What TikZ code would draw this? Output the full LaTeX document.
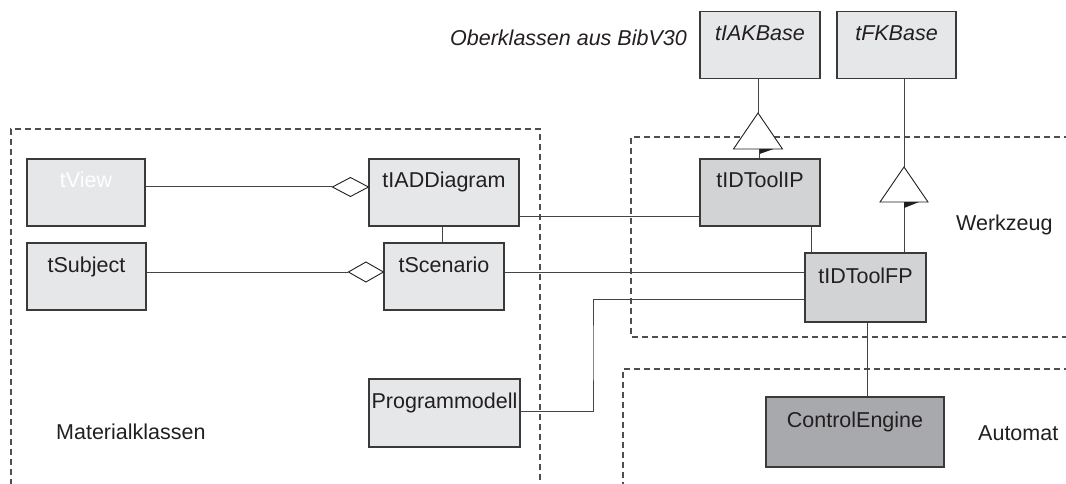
\documentclass[tikz,border=0pt]{standalone}
\usepackage{fontspec}
\setmainfont{Liberation Sans}
\definecolor{ink}{HTML}{231F20}
\definecolor{edge}{HTML}{3A3A3A}
\definecolor{fillA}{HTML}{E6E7E8}
\definecolor{fillB}{HTML}{D1D3D4}
\definecolor{fillC}{HTML}{A7A9AC}
\definecolor{wire}{HTML}{444444}
\definecolor{frame}{HTML}{4E4E4E}

\begin{document}
\begin{tikzpicture}[x=1pt,y=-1pt,
  every node/.style={font=\fontsize{21.5}{24}\selectfont, text=ink},
  cls/.style={draw=edge, line width=1.1pt, inner sep=0pt, text height=29pt, text depth=38pt},
  light/.style={cls, fill=fillA},
  mid/.style={cls, fill=fillB},
  dark/.style={cls, fill=fillC},
  wire/.style={draw=wire, line width=1pt},
  hollow/.style={draw=ink, line width=0.9pt, fill=white, line join=miter},
  frameline/.style={draw=frame, line width=1.1pt, dash pattern=on 6pt off 4pt},
  caption/.style={anchor=base west, inner sep=0pt}
]
\useasboundingbox (0,0) rectangle (1066,484);
\clip (0,0) rectangle (1066,484);

% package frames
\draw[frameline] (540,490) -- (540,129) -- (11,129) -- (11,490);
\draw[frameline] (1070,137) -- (631,137) -- (631,337) -- (1070,337);
\draw[frameline] (1070,369) -- (623,369) -- (623,490);

% classes
\node[light, minimum width=118pt, minimum height=67pt, text=white] (tView) at (86,192.5) {tView};
\node[light, minimum width=150pt, minimum height=67pt] (tIADDiagram) at (444,192.5) {tIADDiagram};
\node[light, minimum width=119pt, minimum height=67pt] (tSubject) at (86.5,276.5) {tSubject};
\node[light, minimum width=120pt, minimum height=67pt] (tScenario) at (444,276.5) {tScenario};
\node[light, minimum width=151pt, minimum height=68pt] (Programmodell) at (444.5,413) {Programmodell};
\node[light, minimum width=120pt, minimum height=66pt, font=\fontsize{21.5}{24}\selectfont\itshape] (tIAKBase) at (760,45) {tIAKBase};
\node[light, minimum width=119pt, minimum height=66pt, font=\fontsize{21.5}{24}\selectfont\itshape] (tFKBase) at (896.5,45) {tFKBase};
\node[mid, minimum width=120pt, minimum height=67pt] (tIDToolIP) at (760,192.5) {tIDToolIP};
\node[mid, minimum width=121pt, minimum height=69pt] (tIDToolFP) at (865.5,287.5) {tIDToolFP};
\node[dark, minimum width=178pt, minimum height=70pt] (ControlEngine) at (855,432) {ControlEngine};

% aggregations: line, then hollow diamond at the whole's side
\coordinate (viewDia) at ([yshift=5.5pt,xshift=-36pt]tIADDiagram.west);
\draw[wire] ([yshift=5.5pt]tView.east) -- (viewDia);
\draw[hollow] (viewDia) -- ++(18,-9.5) -- ++(18,9.5) -- ++(-18,9.5) -- cycle;
\coordinate (subjDia) at ([yshift=4.5pt,xshift=-35pt]tScenario.west);
\draw[wire] ([yshift=4.5pt]tSubject.east) -- (subjDia);
\draw[hollow] (subjDia) -- ++(17.5,-10) -- ++(17.5,10) -- ++(-17.5,10) -- cycle;

% associations
\draw[wire] ([xshift=-2pt]tIADDiagram.south) -- ([xshift=-2pt]tIADDiagram.south |- tScenario.north);
\draw[wire] ([yshift=-23.5pt]tIADDiagram.east) -- ([yshift=-23.5pt]tIADDiagram.east -| tIDToolIP.west);
\draw[wire] ([yshift=4.5pt]tScenario.east) -- ([yshift=4.5pt]tScenario.east -| tIDToolFP.west);
\coordinate (pmJog) at (593,350);
\draw[wire] ([yshift=2pt]Programmodell.east) -| (pmJog) |- ([yshift=-11.5pt]tIDToolFP.west);
\draw[wire] ([xshift=51pt]tIDToolIP.south) -- ([xshift=51pt]tIDToolIP.south |- tIDToolFP.north);
\draw[wire] ([xshift=1.5pt]tIDToolFP.south) -- ([xshift=1.5pt]tIDToolFP.south |- ControlEngine.north);

% generalizations: hollow triangle with a small black flag under it
\coordinate (iakTip) at (758,113);
\draw[wire] ([xshift=1.5pt]iakTip |- tIDToolIP.north) -- ([xshift=1.5pt,yshift=-36pt]iakTip);
\draw[wire] (iakTip) -- (iakTip |- tIAKBase.south);
\draw[hollow] (iakTip) -- ++(24.5,36) -- ++(-49,0) -- cycle;
\fill[ink] (iakTip) ++(1.5,36) -- ++(14,0) -- ++(-14,5) -- cycle;

\coordinate (fkTip) at (904,167);
\draw[wire] (fkTip |- tIDToolFP.north) -- ([yshift=-35pt]fkTip);
\draw[wire] (fkTip) -- (fkTip |- tFKBase.south);
\draw[hollow] (fkTip) -- ++(24,35) -- ++(-48,0) -- cycle;
\fill[ink] (fkTip) ++(0,35) -- ++(15,0) -- ++(-15,6) -- cycle;

% package captions
\node[caption, font=\fontsize{21.5}{24}\selectfont\itshape] (superLabel) at (450,46) {Oberklassen aus BibV30};
\node[caption] (materialLabel) at (56,439) {Materialklassen};
\node[caption] (toolLabel) at (956,230) {Werkzeug};
\node[caption] (automatLabel) at (978,440) {Automat};
\end{tikzpicture}
\end{document}
